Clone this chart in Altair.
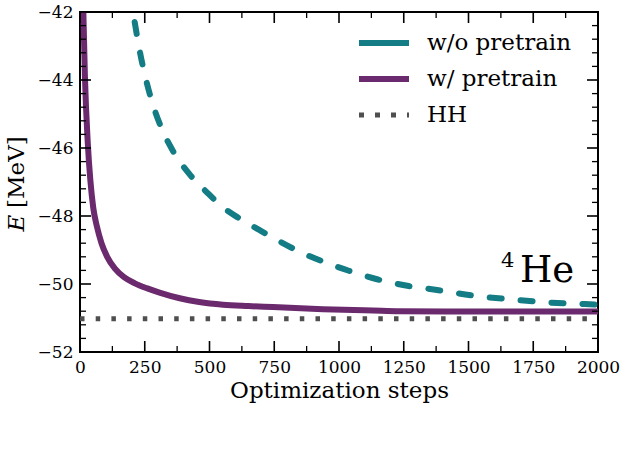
import altair as alt
import pandas as pd

# Ground-state energy of 4He during optimization
steps_wo = [170, 206, 232, 270, 311, 360, 425, 487, 551, 615, 692, 769, 853,
            949, 1038, 1147, 1269, 1372, 1526, 1660, 1801, 1949, 2000]
energy_wo = [-40.5, -42.07, -43.20, -44.43, -45.35, -46.10, -46.79, -47.28,
             -47.74, -48.07, -48.41, -48.74, -49.07, -49.37, -49.61, -49.86,
             -50.06, -50.17, -50.35, -50.45, -50.54, -50.59, -50.61]

steps_w = [0, 6, 13, 19, 30, 40, 51, 65, 83, 105, 135, 170, 212, 260, 310,
           385, 460, 552, 650, 745, 938, 1131, 1234, 1500, 2000]
energy_w = [-36.0, -39.5, -42.0, -43.89, -45.85, -46.95, -47.75, -48.30,
            -48.80, -49.20, -49.55, -49.80, -49.98, -50.13, -50.26, -50.42,
            -50.53, -50.61, -50.65, -50.68, -50.74, -50.78, -50.80, -50.81,
            -50.81]

hh_steps = [0, 2000]
hh_energy = [-51.02, -51.02]

# Tick positions
x_major = [0, 250, 500, 750, 1000, 1250, 1500, 1750, 2000]
x_minor = [125, 375, 625, 875, 1125, 1375, 1625, 1875]
y_major = [-52, -50, -48, -46, -44, -42]
y_minor = [-51.6, -51.2, -50.8, -50.4, -49.6, -49.2, -48.8, -48.4,
           -47.6, -47.2, -46.8, -46.4, -45.6, -45.2, -44.8, -44.4,
           -43.6, -43.2, -42.8, -42.4]

legend_labels = ["w/o pretrain", "w/ pretrain", "HH"]

W, H = 518, 340
TEAL = "#137c84"
PURPLE = "#6b2a6d"
GREY = "#4f4f4f"
FONT = "DejaVu Serif"

xs = alt.Scale(domain=[0, 2000], nice=False, zero=False)
ys = alt.Scale(domain=[-52, -42], nice=False, zero=False)

x_axis = alt.Axis(values=x_major, format="d", ticks=False, domain=False, grid=False,
                  labelOverlap=False, labelFlush=False, labelPadding=7,
                  title="Optimization steps", titlePadding=4)
y_axis = alt.Axis(values=y_major, format="d", ticks=False, domain=False, grid=False,
                  labelOverlap=False, labelFlush=False, labelPadding=7, title=None)

X = alt.X("step:Q", scale=xs, axis=x_axis)
Y = alt.Y("E:Q", scale=ys, axis=y_axis)

df_wo = pd.DataFrame({"step": steps_wo, "E": energy_wo})
df_w = pd.DataFrame({"step": steps_w, "E": energy_w})
df_hh = pd.DataFrame({"step": hh_steps, "E": hh_energy})

hh = alt.Chart(df_hh).mark_line(
    color=GREY, strokeWidth=5, strokeDash=[4.5, 11.2], strokeCap="butt", clip=True
).encode(x=X, y=Y)

wo = alt.Chart(df_wo).mark_line(
    color=TEAL, strokeWidth=6, strokeDash=[12, 19], strokeCap="round",
    interpolate="monotone", clip=True
).encode(x=X, y=Y)

w = alt.Chart(df_w).mark_line(
    color=PURPLE, strokeWidth=6, strokeCap="round", interpolate="monotone", clip=True
).encode(x=X, y=Y)


def x_ticks(vals, length, width):
    base = alt.Chart(pd.DataFrame({"step": vals})).mark_rule(color="black", strokeWidth=width)
    return (base.encode(x=X, y=alt.value(H), y2=alt.value(H - length))
            + base.encode(x=X, y=alt.value(0), y2=alt.value(length)))


def y_ticks(vals, length, width):
    base = alt.Chart(pd.DataFrame({"E": vals})).mark_rule(color="black", strokeWidth=width)
    return (base.encode(y=Y, x=alt.value(0), x2=alt.value(length))
            + base.encode(y=Y, x=alt.value(W), x2=alt.value(W - length)))


ticks = (x_ticks(x_major, 11, 1.6) + x_ticks(x_minor, 6, 1.3)
         + y_ticks(y_major, 11, 1.6) + y_ticks(y_minor, 6, 1.3))

# Legend in the upper right corner
legend_layers = []
legend_styles = [
    dict(color=TEAL, strokeWidth=6, strokeCap="butt"),
    dict(color=PURPLE, strokeWidth=6, strokeCap="butt"),
    dict(color=GREY, strokeWidth=5, strokeCap="butt", strokeDash=[5, 11]),
]
row_y = [31, 67, 103]
one = pd.DataFrame({"k": [0]})
for label, style, yy in zip(legend_labels, legend_styles, row_y):
    legend_layers.append(
        alt.Chart(one).mark_rule(**style).encode(
            x=alt.value(279), x2=alt.value(329), y=alt.value(yy)))
    legend_layers.append(
        alt.Chart(one).mark_text(
            text=label, font=FONT, fontSize=23, align="left", baseline="middle",
            color="black").encode(x=alt.value(347), y=alt.value(yy)))

# Nucleus label
nucleus = (
    alt.Chart(one).mark_text(text="4", font=FONT, fontSize=21, align="left",
                             baseline="alphabetic", color="black")
    .encode(x=alt.value(421), y=alt.value(255))
    + alt.Chart(one).mark_text(text="He", font=FONT, fontSize=37, align="left",
                               baseline="alphabetic", color="black")
    .encode(x=alt.value(440), y=alt.value(270))
)

# y-axis title with italic E
ytitle = (
    alt.Chart(one).mark_text(text="E", font=FONT, fontSize=23, fontStyle="italic",
                             angle=270, align="center", baseline="alphabetic",
                             color="black")
    .encode(x=alt.value(-56), y=alt.value(211))
    + alt.Chart(one).mark_text(text="[MeV]", font=FONT, fontSize=23, angle=270,
                               align="left", baseline="alphabetic", color="black")
    .encode(x=alt.value(-56), y=alt.value(196))
)

chart = alt.layer(
    hh, wo, w, ticks, *legend_layers, nucleus, ytitle
).properties(
    width=W, height=H,
    autosize=alt.AutoSizeParams(type="none"),
    padding={"left": 80, "top": 12, "right": 29, "bottom": 97},
).configure_axis(
    labelFont=FONT, labelFontSize=17, labelColor="black",
    titleFont=FONT, titleFontSize=23, titleColor="black", titleFontWeight="normal",
).configure_view(
    stroke="black", strokeWidth=2,
)

chart.save("out.html", embed_options={"renderer": "svg", "actions": False})
